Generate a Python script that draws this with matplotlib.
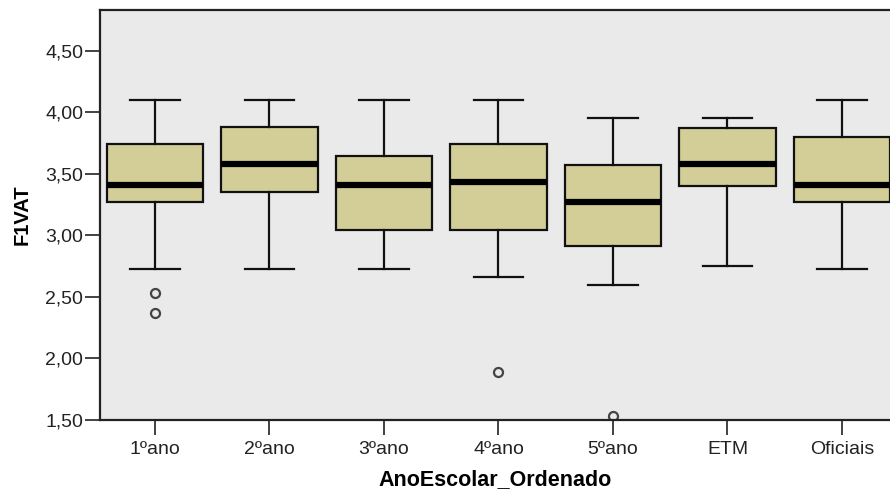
import matplotlib.pyplot as plt

plt.rcParams['font.family'] = ['Liberation Sans', 'DejaVu Sans']

categories = ["1ºano", "2ºano", "3ºano", "4ºano", "5ºano", "ETM", "Oficiais"]
whisker_low = [2.73, 2.73, 2.73, 2.66, 2.60, 2.75, 2.73]
q1 = [3.27, 3.35, 3.04, 3.04, 2.91, 3.40, 3.27]
median = [3.41, 3.58, 3.41, 3.43, 3.27, 3.58, 3.41]
q3 = [3.74, 3.88, 3.64, 3.74, 3.57, 3.87, 3.80]
whisker_high = [4.10, 4.10, 4.10, 4.10, 3.95, 3.95, 4.10]
outliers = [[2.53, 2.37], [], [], [1.89], [1.53], [], []]

yticks = [1.5, 2.0, 2.5, 3.0, 3.5, 4.0, 4.5]

stats = []
for i, name in enumerate(categories):
    stats.append({
        'label': name,
        'whislo': whisker_low[i],
        'q1': q1[i],
        'med': median[i],
        'q3': q3[i],
        'whishi': whisker_high[i],
        'fliers': outliers[i],
    })

fig = plt.figure(figsize=(8.9, 4.94), dpi=100)
ax = fig.add_axes([100 / 890, 1 - 420 / 494, 1 - 100 / 890, (420 - 10) / 494])
ax.set_facecolor('#EAEAEA')

ax.bxp(stats, positions=range(len(categories)), widths=0.84, patch_artist=True,
       boxprops=dict(facecolor='#D3CE97', edgecolor='#111111', linewidth=1.6),
       medianprops=dict(color='black', linewidth=4.5, solid_capstyle='butt'),
       whiskerprops=dict(color='#111111', linewidth=1.6),
       capprops=dict(color='#111111', linewidth=1.6),
       flierprops=dict(marker='o', markersize=6.5, markerfacecolor='none',
                       markeredgecolor='#444444', markeredgewidth=1.6),
       capwidths=0.43)

ax.set_xlim(-0.48, (890 - 155) / 114.5)
ax.set_ylim(1.5, 4.0 + (112 - 10) / 123)
ax.set_yticks(yticks)
ax.set_yticklabels([f"{v:.2f}".replace('.', ',') for v in yticks])
ax.set_xticks(range(len(categories)))
ax.set_xticklabels(categories)

ax.tick_params(axis='both', direction='out', length=11, width=1.2, color='#222222',
               labelsize=14, labelcolor='#222222')
ax.tick_params(axis='y', pad=1)
ax.tick_params(axis='x', pad=4)

for side in ['left', 'bottom', 'top']:
    ax.spines[side].set_linewidth(1.6)
    ax.spines[side].set_color('#222222')
ax.spines['right'].set_visible(False)

ax.set_ylabel('F1VAT', fontsize=14.5, fontweight='bold', labelpad=10)
ax.set_xlabel('AnoEscolar_Ordenado', fontsize=15.5, fontweight='bold', labelpad=8)

fig.savefig('out.png', dpi=100)
